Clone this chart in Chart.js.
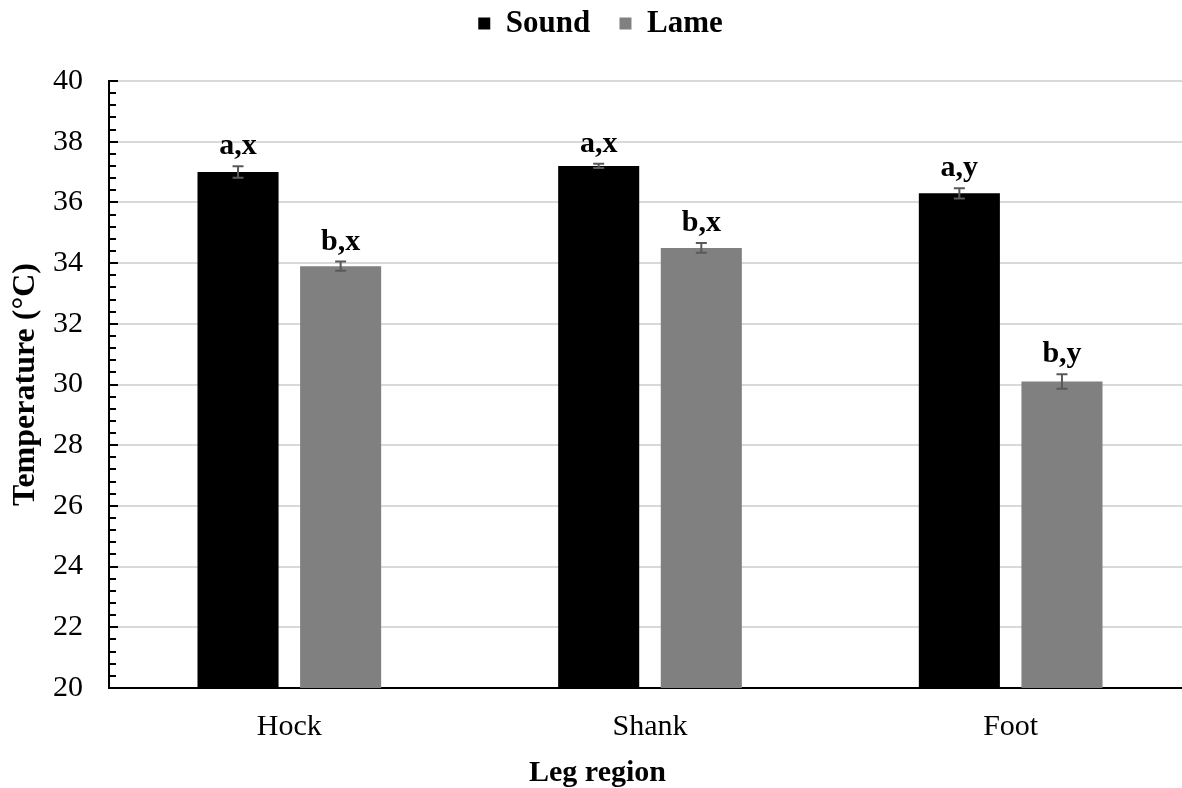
<!DOCTYPE html>
<html><head><meta charset="utf-8">
<script src="https://cdn.jsdelivr.net/npm/chart.js@4.4.0/dist/chart.umd.min.js"></script>
<style>
html,body{margin:0;padding:0;background:#fff;overflow:hidden;}
#wrap{position:relative;width:1191px;height:788px;}
</style></head><body>
<div id="wrap"><canvas id="c"></canvas></div>
<script>
// ---- data ----
const categories = ['Hock', 'Shank', 'Foot'];
const seriesNames = ['Sound', 'Lame'];
const soundValues = [37.0, 37.2, 36.3];
const lameValues = [33.9, 34.5, 30.1];
const soundErrors = [0.19, 0.07, 0.17];
const lameErrors = [0.15, 0.16, 0.24];
const soundLetters = ['a,x', 'a,x', 'a,y'];
const lameLetters = ['b,x', 'b,x', 'b,y'];
const yMin = 20, yMax = 40, yMajorStep = 2, yMinorStep = 0.4;

const SERIF = "'Liberation Serif','Times New Roman',serif";

const errorPlugin = {
  id: 'errorsAndLabels',
  afterDatasetsDraw(chart) {
    const ctx = chart.ctx;
    const ys = chart.scales.y;
    const errs = [soundErrors, lameErrors];
    const letters = [soundLetters, lameLetters];
    chart.data.datasets.forEach((ds, di) => {
      const meta = chart.getDatasetMeta(di);
      meta.data.forEach((bar, i) => {
        const v = ds.data[i], e = errs[di][i];
        const yTop = ys.getPixelForValue(v + e);
        const yBot = ys.getPixelForValue(v - e);
        const x = bar.x;
        ctx.save();
        ctx.strokeStyle = '#595959';
        ctx.lineWidth = 2;
        ctx.beginPath();
        ctx.moveTo(x, yTop); ctx.lineTo(x, yBot);
        ctx.moveTo(x - 5.5, yTop); ctx.lineTo(x + 5.5, yTop);
        ctx.moveTo(x - 5.5, yBot); ctx.lineTo(x + 5.5, yBot);
        ctx.stroke();
        ctx.fillStyle = '#000';
        ctx.font = "bold 30px " + SERIF;
        ctx.textAlign = 'center';
        ctx.textBaseline = 'alphabetic';
        ctx.fillText(letters[di][i], x, yTop - 12);
        ctx.restore();
      });
    });
  }
};

const minorTickPlugin = {
  id: 'minorTicks',
  afterDraw(chart) {
    const ctx = chart.ctx;
    const ys = chart.scales.y;
    const left = chart.chartArea.left;
    ctx.save();
    ctx.strokeStyle = '#000';
    ctx.lineWidth = 2;
    const n = Math.round((yMax - yMin) / yMinorStep);
    for (let k = 0; k <= n; k++) {
      const v = yMin + k * yMinorStep;
      const py = Math.round(ys.getPixelForValue(v));
      const major = (k % Math.round(yMajorStep / yMinorStep)) === 0;
      ctx.beginPath();
      ctx.moveTo(left, py);
      ctx.lineTo(left + (major ? 9 : 7), py);
      ctx.stroke();
    }
    ctx.restore();
  }
};

new Chart(document.getElementById('c'), {
  type: 'bar',
  data: {
    labels: categories,
    datasets: [
      { label: seriesNames[0] + '   ', data: soundValues, backgroundColor: '#000000', borderWidth: 0 },
      { label: seriesNames[1], data: lameValues, backgroundColor: '#808080', borderWidth: 0 }
    ]
  },
  options: {
    responsive: true,
    maintainAspectRatio: false,
    animation: false,
    events: [],
    categoryPercentage: 0.569,
    barPercentage: 0.79,
    layout: { padding: { left: 10, right: 0, top: 2, bottom: 0 } },
    plugins: {
      tooltip: { enabled: false },
      legend: {
        position: 'top',
        weight: 1000,
        labels: {
          font: { family: SERIF, size: 31, weight: 'bold' },
          color: '#000',
          boxWidth: 12,
          boxHeight: 12,
          padding: 6
        }
      },
      title: {
        display: true,
        text: '',
        position: 'top',
        weight: 500,
        font: { size: 1, lineHeight: 1 },
        padding: { top: 0, bottom: 31 }
      }
    },
    scales: {
      x: {
        grid: { display: false, drawTicks: false },
        border: { display: true, color: '#000', width: 2 },
        ticks: { font: { family: SERIF, size: 30 }, color: '#000', padding: 21 },
        title: { display: true, text: 'Leg region' + '\u2002'.repeat(7), font: { family: SERIF, size: 30, weight: 'bold', lineHeight: 1 }, color: '#000', padding: { top: 0, bottom: 0 } },
        afterFit(scale) { scale.height = 100; }
      },
      y: {
        min: yMin, max: yMax,
        grid: { color: '#d9d9d9', lineWidth: 2, drawTicks: false },
        border: { display: true, color: '#000', width: 2 },
        ticks: { stepSize: yMajorStep, font: { family: SERIF, size: 30 }, color: '#000', padding: 26 },
        title: { display: true, text: 'Temperature (°C)', font: { family: SERIF, size: 32, weight: 'bold', lineHeight: 1 }, color: '#000', padding: { top: 0, bottom: 0 } },
        afterFit(scale) { scale.width = 99; }
      }
    }
  },
  plugins: [errorPlugin, minorTickPlugin]
});
</script>
</body></html>
